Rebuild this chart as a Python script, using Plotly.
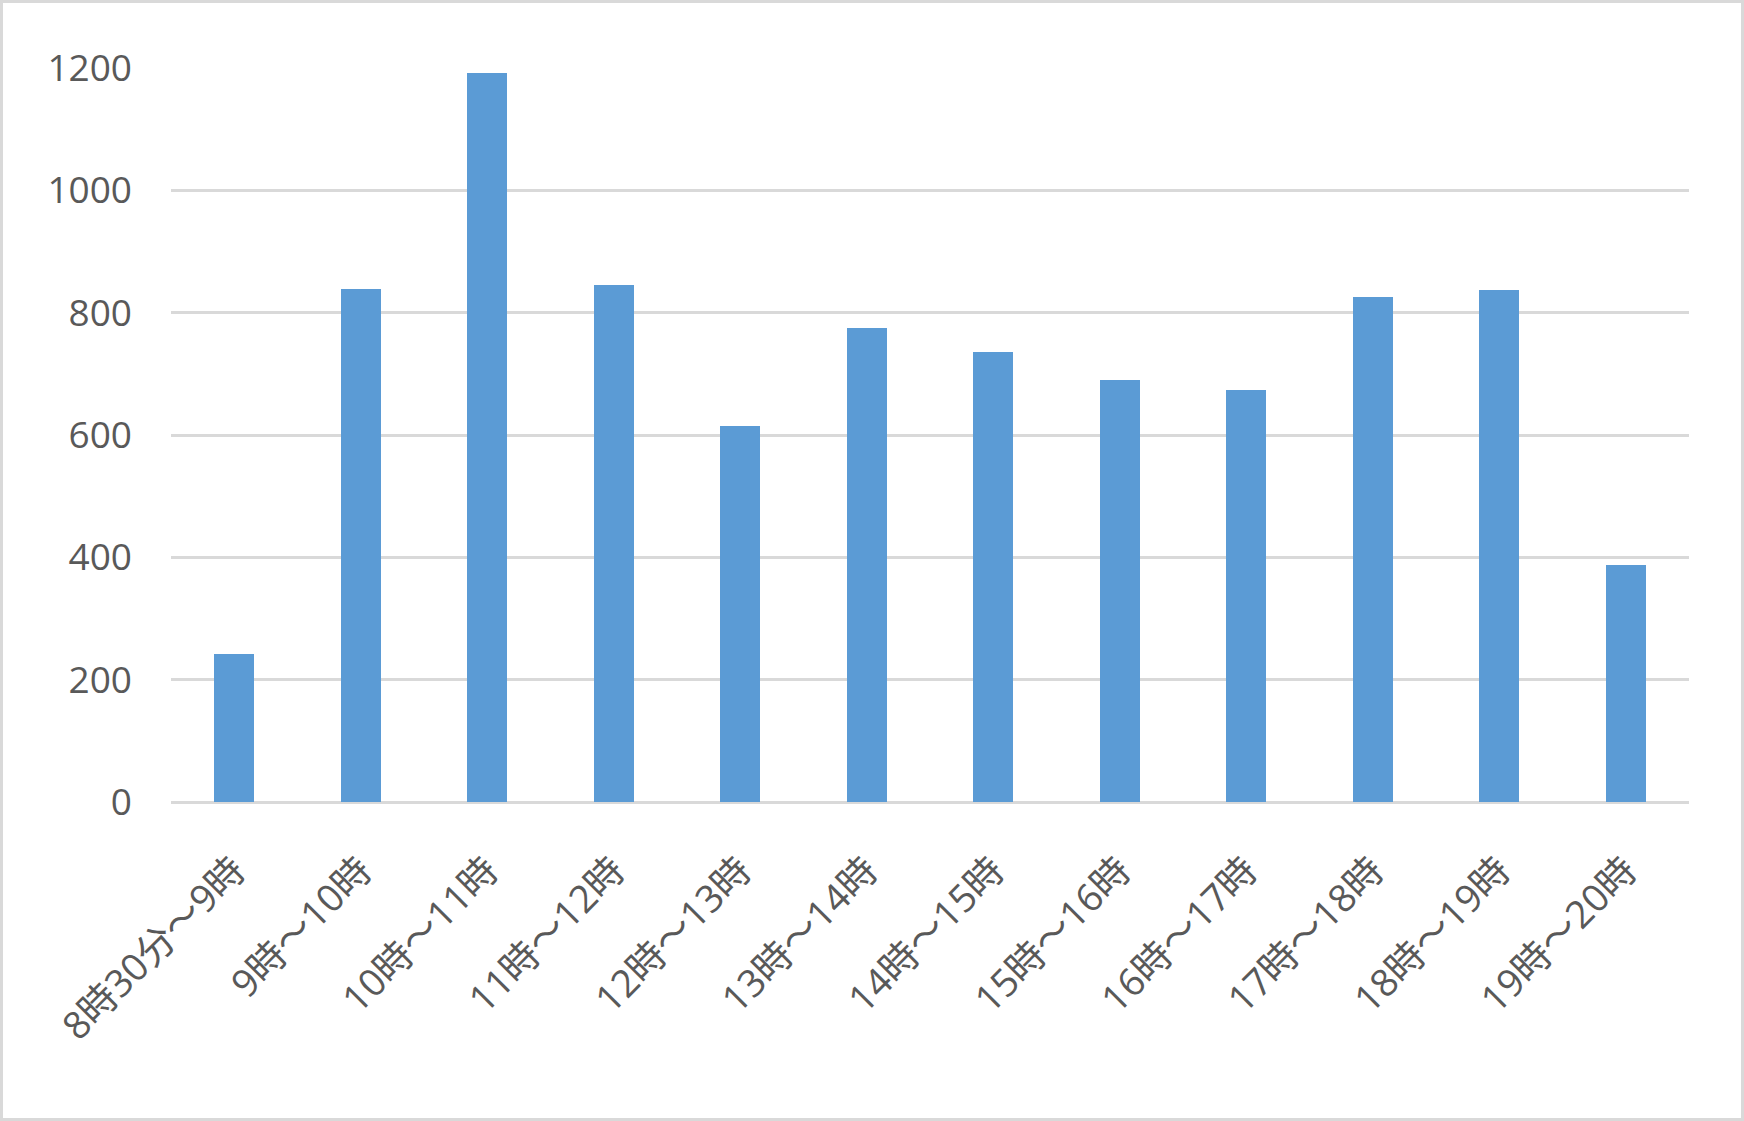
import plotly.graph_objects as go

categories = ["8時30分～9時", "9時～10時", "10時～11時", "11時～12時", "12時～13時", "13時～14時",
              "14時～15時", "15時～16時", "16時～17時", "17時～18時", "18時～19時", "19時～20時"]
values = [242, 839, 1192, 846, 614, 775, 736, 690, 674, 826, 837, 388]
y_ticks = [0, 200, 400, 600, 800, 1000, 1200]

W, H = 1744, 1121
ml, mr, mt, mb = 171, 55, 68, 319

fig = go.Figure(go.Bar(
    x=categories, y=values, width=0.316,
    marker=dict(color="#5b9bd5", line=dict(width=0)),
))

font_family = "Open Sans, Noto Sans CJK JP, sans-serif"
fig.update_layout(
    width=W, height=H,
    margin=dict(l=ml, r=mr, t=mt, b=mb, pad=0),
    paper_bgcolor="white", plot_bgcolor="white",
    showlegend=False,
    font=dict(family=font_family, color="#595959", size=36),
    bargap=0,
)
fig.update_xaxes(
    type="category", tickangle=-45, showgrid=False, showline=False,
    ticks="outside", ticklen=30, tickcolor="rgba(0,0,0,0)",
    tickfont=dict(size=38, color="#595959", family=font_family),
)
fig.update_yaxes(
    range=[0, 1200], tickvals=y_ticks, ticktext=[str(v) for v in y_ticks],
    showgrid=True, gridcolor="#d9d9d9", gridwidth=2.5,
    zeroline=True, zerolinecolor="#d9d9d9", zerolinewidth=2.5,
    showline=False, ticklabelstandoff=38,
    tickfont=dict(size=37, color="#595959", family=font_family),
)

# outer chart border
pw = W - ml - mr
ph = H - mt - mb
fig.add_shape(type="rect", xref="paper", yref="paper",
              x0=(1.5 - ml) / pw, x1=(W - 1.5 - ml) / pw,
              y0=-(H - 1.5 - mt - ph) / ph, y1=(mt - 1.5) / ph + 1,
              line=dict(color="#d9d9d9", width=3), layer="below")

fig.write_html("out.html", config={"displayModeBar": False},
               post_script="document.body.style.margin='0';document.body.style.overflow='hidden';")
